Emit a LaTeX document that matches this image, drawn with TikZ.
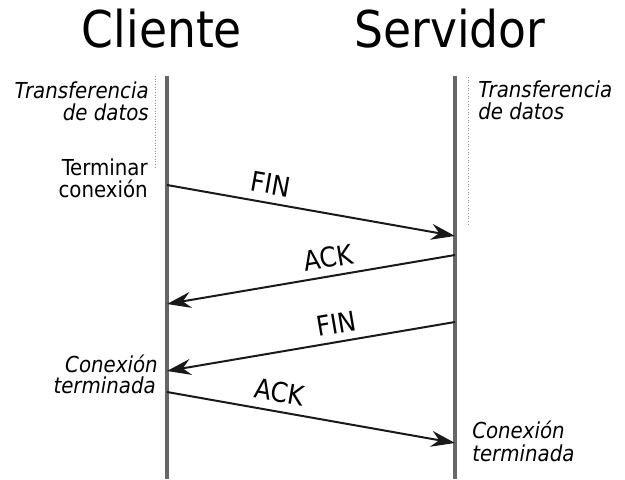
\documentclass[tikz,border=0pt]{standalone}
\usepackage{fontspec}
\setmainfont{DejaVu Sans Condensed}
\usetikzlibrary{arrows.meta}
\begin{document}
\begin{tikzpicture}[x=0.75pt,y=-0.75pt,
  lifeline/.style={draw=black!60,line width=2.4pt},
  guide/.style={draw=black!45,line width=0.6pt,dash pattern=on 0.8pt off 1.2pt},
  msg/.style={draw=black!90,line width=1.5pt,-{Stealth[length=18pt,width=12pt,inset=6pt]}},
  lbl/.style={sloped,above=6pt,inner sep=0pt,font=\fontsize{20.5}{22}\selectfont},
  title/.style={anchor=base,inner sep=0pt,font=\fontsize{38}{40}\selectfont},
  note/.style={inner sep=0pt,font=\fontsize{16.5}{18}\selectfont},
  inote/.style={note,font=\fontsize{16.5}{18}\selectfont\itshape}]
\useasboundingbox (0,0) rectangle (625,479);

% headings
\node[title] (cli) at (162,47) {Cliente};
\node[title] (srv) at (450,47) {Servidor};

% lifelines
\coordinate (ctop) at (167,76);
\coordinate (cbot) at (167,479);
\coordinate (stop) at (455,76);
\coordinate (sbot) at (455,479);
\draw[lifeline] (ctop) -- (cbot);
\draw[lifeline] (stop) -- (sbot);

% data-transfer phase markers
\coordinate (gl1) at (155,76);
\coordinate (gl2) at (155,168);
\coordinate (gr1) at (468,77);
\coordinate (gr2) at (468,225);
\draw[guide] (gl1) -- (gl2);
\draw[guide] (gr1) -- (gr2);

% side notes
\node[inote,anchor=base east] (tl1) at (149,98) {Transferencia};
\node[inote,anchor=base east] (tl2) at (149,120) {de datos};
\node[inote,anchor=base west] (tr1) at (478,97) {Transferencia};
\node[inote,anchor=base west] (tr2) at (478,119) {de datos};
\node[note,anchor=base east] (tc1) at (148,175) {Terminar};
\node[note,anchor=base east] (tc2) at (148,197) {conexión};
\node[inote,anchor=base east] (fl1) at (158,372) {Conexión};
\node[inote,anchor=base east] (fl2) at (156,393) {terminada};
\node[inote,anchor=base west] (fr1) at (472,438) {Conexión};
\node[inote,anchor=base west] (fr2) at (472,461) {terminada};

% message endpoints
\coordinate (c1) at (167,185);
\coordinate (s1) at (455,236);
\coordinate (s2) at (455,255);
\coordinate (c2) at (167,304);
\coordinate (s3) at (455,322);
\coordinate (c3) at (167,371);
\coordinate (c4) at (167,392);
\coordinate (s4) at (455,443);

% messages
\draw[msg] (c1) -- node[lbl,pos=.35] (m1) {FIN} (s1);
\draw[msg] (s2) -- (c2);
\path (c2) -- node[lbl,pos=.57] (m2) {ACK} (s2);
\draw[msg] (s3) -- (c3);
\path (c3) -- node[lbl,pos=.60] (m3) {FIN} (s3);
\draw[msg] (c4) -- node[lbl,pos=.38] (m4) {ACK} (s4);
\end{tikzpicture}
\end{document}
